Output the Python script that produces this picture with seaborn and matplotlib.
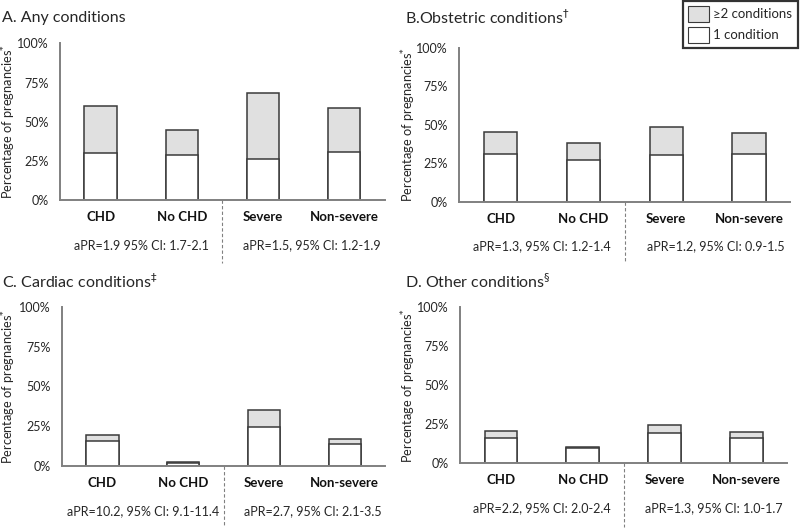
"""
Stacked bars: share of pregnancies with 1 or >=2 conditions, by CHD status / severity.
"""
import matplotlib
matplotlib.use("Agg")
import matplotlib.pyplot as plt
from matplotlib.patches import Patch
from matplotlib.transforms import blended_transform_factory
from matplotlib.ticker import PercentFormatter
import pandas as pd
import seaborn as sns

sns.set_theme(style="white")
plt.rcParams["font.family"] = ["Lato", "DejaVu Sans"]

groups = ["CHD", "No CHD", "Severe", "Non-severe"]

# percent of pregnancies with exactly one condition / two or more
one_any = [30.0, 29.0, 26.3, 30.4]
two_any = [30.3, 15.4, 42.3, 28.4]
one_obst = [30.7, 27.0, 30.3, 30.7]
two_obst = [14.3, 10.9, 18.2, 13.7]
one_card = [15.4, 1.8, 24.4, 13.7]
two_card = [3.8, 0.3, 10.8, 2.9]
one_other = [16.5, 10.0, 19.4, 16.2]
two_other = [4.0, 0.7, 5.0, 3.7]

titles = [
    "A. Any conditions",
    r"B.Obstetric conditions$^{\dagger}$",
    r"C. Cardiac conditions$^{\ddagger}$",
    r"D. Other conditions$^{\S}$",
]
apr_left = [
    "aPR=1.9 95% CI: 1.7-2.1",
    "aPR=1.3, 95% CI: 1.2-1.4",
    "aPR=10.2, 95% CI: 9.1-11.4",
    "aPR=2.2, 95% CI: 2.0-2.4",
]
apr_right = [
    "aPR=1.5, 95% CI: 1.2-1.9",
    "aPR=1.2, 95% CI: 0.9-1.5",
    "aPR=2.7, 95% CI: 2.1-3.5",
    "aPR=1.3, 95% CI: 1.0-1.7",
]
panels = [(one_any, two_any), (one_obst, two_obst),
          (one_card, two_card), (one_other, two_other)]

GREY = "#e0e0e0"
EDGE = "#3a3a3a"
SPINE = "#808080"

W, H = 800, 528
fig = plt.figure(figsize=(W / 100, H / 100), dpi=100)
axes_pos = [
    (0.075, 0.621, 0.406, 0.297),
    (0.574, 0.618, 0.414, 0.292),
    (0.0775, 0.118, 0.404, 0.300),
    (0.575, 0.1225, 0.409, 0.2955),
]
# right edge (pixels) of each rotated y label
ylabel_px = [18, 418, 18, 418]
title_pos = [(0.003, 0.966), (0.506, 0.966), (0.003, 0.466), (0.506, 0.466)]
dash_bottom = [-0.40, -0.40, -0.39, -0.41]

for i, (one, two) in enumerate(panels):
    ax = fig.add_axes(axes_pos[i])
    df = pd.DataFrame({"group": groups, "one": one,
                       "total": [a + b for a, b in zip(one, two)]})
    sns.barplot(data=df, x="group", y="total", color=GREY, width=0.4,
                edgecolor=EDGE, linewidth=1.1, saturation=1, ax=ax)
    sns.barplot(data=df, x="group", y="one", color="white", width=0.4,
                edgecolor=EDGE, linewidth=1.1, saturation=1, ax=ax)

    ax.set_xlim(-0.5, 3.5)
    ax.set_ylim(0, 100)
    ax.set_yticks([0, 25, 50, 75, 100])
    ax.yaxis.set_major_formatter(PercentFormatter(decimals=0))
    ax.tick_params(axis="y", length=0, pad=8, labelsize=9, labelcolor="#262626")
    ax.tick_params(axis="x", length=0, pad=8, labelsize=9.5, labelcolor="#111111")
    for lab in ax.get_xticklabels():
        lab.set_fontweight("bold")
    ax.set_xlabel("")
    ax.set_ylabel(r"Percentage of pregnancies$^{*}$", fontsize=9.2,
                  color="#262626")
    left_px = axes_pos[i][0] * W
    width_px = axes_pos[i][2] * W
    ax.yaxis.set_label_coords((ylabel_px[i] - left_px) / width_px, 0.5)

    for side in ["top", "right"]:
        ax.spines[side].set_visible(False)
    for side in ["left", "bottom"]:
        ax.spines[side].set_color(SPINE)
        ax.spines[side].set_linewidth(1.4)

    trans = blended_transform_factory(ax.transData, ax.transAxes)
    ax.plot([1.5, 1.5], [0, dash_bottom[i]], transform=trans, clip_on=False,
            color=SPINE, linestyle=(0, (3, 2)), linewidth=0.8)
    ax.text(0.5, -0.29, apr_left[i], transform=trans, ha="center",
            va="center", fontsize=9, color="#262626")
    ax.text(2.6, -0.29, apr_right[i], transform=trans, ha="center",
            va="center", fontsize=9, color="#262626")

    fig.text(title_pos[i][0], title_pos[i][1], titles[i], fontsize=11.5,
             ha="left", va="center", color="#262626")

handles = [Patch(facecolor=GREY, edgecolor=EDGE, linewidth=0.8, label="≥2 conditions"),
           Patch(facecolor="white", edgecolor=EDGE, linewidth=0.8, label="1 condition")]
leg = fig.legend(handles=handles, loc="upper right", bbox_to_anchor=(0.997, 0.999),
                 fontsize=9.5, frameon=True, fancybox=False, handlelength=1.6,
                 handleheight=1.5, handletextpad=0.3, labelspacing=0.35,
                 borderpad=0.4, borderaxespad=0)
leg.get_frame().set_edgecolor("black")
leg.get_frame().set_linewidth(1.6)

fig.savefig("out.png", dpi=100)
